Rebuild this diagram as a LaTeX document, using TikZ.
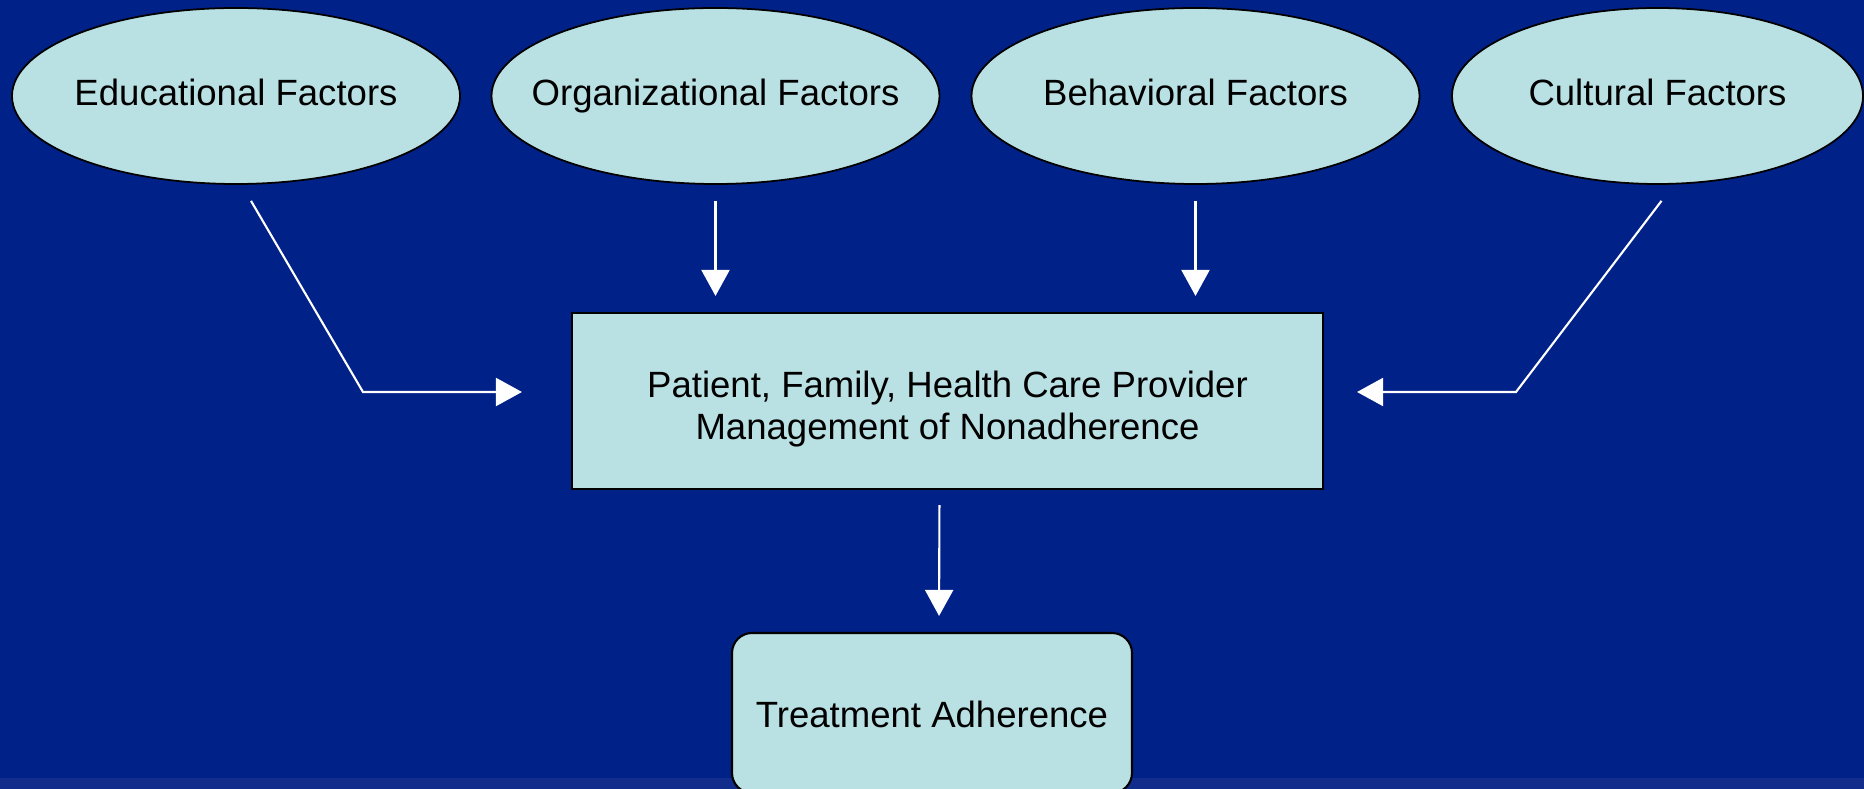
\documentclass[tikz,border=0pt]{standalone}
\usepackage{fontspec}
\setmainfont{Liberation Sans}
\usetikzlibrary{shapes,arrows.meta}
\definecolor{slidenavy}{RGB}{0,33,136}
\definecolor{slidefooter}{RGB}{18,44,140}
\definecolor{paleteal}{RGB}{185,224,227}

\begin{document}
\begin{tikzpicture}[
    every node/.style={font=\fontsize{10.4}{11.95}\selectfont},
    factor/.style={ellipse, draw=black, fill=paleteal, line width=0.5pt, minimum width=4.48cm, minimum height=1.76cm, inner xsep=-1cm, text height=0.24cm, text depth=0.05cm},
    stage/.style={rectangle, draw=black, fill=paleteal, line width=0.6pt, align=center},
    flow/.style={white, line width=0.6pt, -{Triangle[length=0.26cm, width=0.28cm]}}
]
    % Background
    \fill[slidenavy] (0,0) rectangle (18.64,-7.89);
    \fill[slidefooter] (0,-7.78) rectangle (18.64,-7.89);
    \useasboundingbox (0,0) rectangle (18.64,-7.89);

    % Factors
    \node[factor] (edu) at (2.36,-0.96) {Educational Factors};
    \node[factor] (org) at (7.155,-0.96) {Organizational Factors};
    \node[factor] (beh) at (11.955,-0.96) {Behavioral Factors};
    \node[factor, minimum width=4.11cm] (cul) at (16.575,-0.96) {Cultural Factors};

    % Management and outcome
    \node[stage, minimum width=7.51cm, minimum height=1.76cm, text height=0.85cm] (hub) at (9.475,-4.01) {Patient, Family, Health Care Provider\\Management of Nonadherence};
    \node[stage, rounded corners=0.2cm, minimum width=4cm, minimum height=1.6cm, text height=0.3cm, text depth=0cm] (treat) at (9.32,-7.13) {Treatment Adherence};

    % Arrows
    \coordinate (eduknee) at (3.63,-3.92);
    \coordinate (culknee) at (15.16,-3.92);
    \draw[flow, shorten >=0.49cm] ([xshift=0.15cm, yshift=-0.16cm]edu.south) -- (eduknee) -- (eduknee -| hub.west);
    \draw[flow, shorten <=0.16cm, shorten >=0.16cm] (org.south) -- (org.south |- hub.north);
    \draw[flow, shorten <=0.16cm, shorten >=0.16cm] (beh.south) -- (beh.south |- hub.north);
    \draw[flow, shorten >=0.33cm] ([xshift=0.04cm, yshift=-0.16cm]cul.south) -- (culknee) -- (culknee -| hub.east);
    \draw[flow, shorten <=0.15cm, shorten >=0.16cm] ([xshift=-0.08cm]hub.south) -- ([xshift=0.07cm]treat.north);
\end{tikzpicture}
\end{document}
